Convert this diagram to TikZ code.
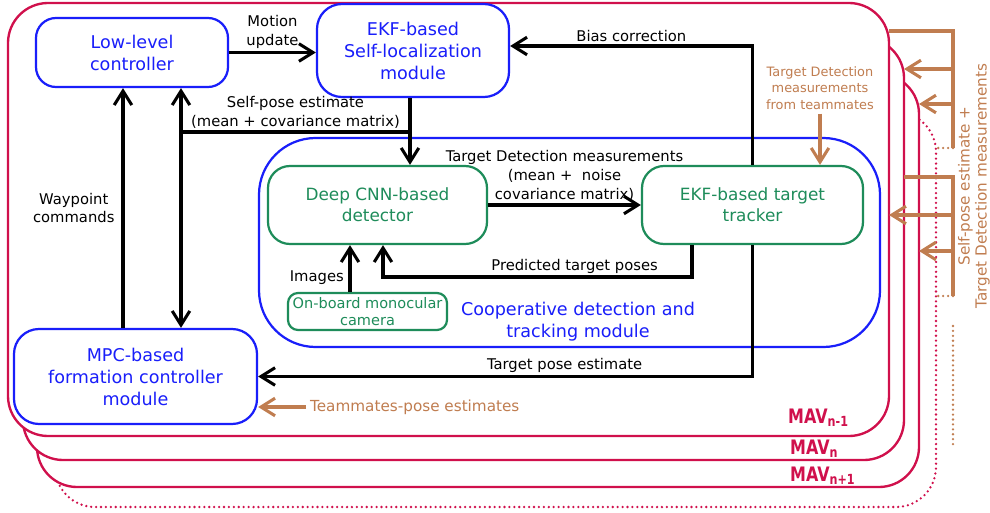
\documentclass[tikz,border=0pt]{standalone}
\usepackage{fontspec}
\setmainfont{DejaVu Sans}
\newfontfamily\mavfont[FakeStretch=0.8]{DejaVu Sans}
\usetikzlibrary{arrows.meta}

\definecolor{mavred}{RGB}{208,16,76}
\definecolor{modblue}{RGB}{25,30,250}
\definecolor{detgreen}{RGB}{30,140,90}
\definecolor{teambrown}{RGB}{192,125,80}

\tikzset{
  frame/.style={draw=mavred, line width=2pt, rounded corners=1.2cm, fill=white},
  bluebox/.style={draw=modblue, line width=1.9pt, text=modblue, align=center,
    font=\fontsize{15}{18.8}\selectfont},
  greenbox/.style={draw=detgreen, line width=1.9pt, text=detgreen, align=center,
    font=\fontsize{14.4}{18}\selectfont, rounded corners=0.66cm},
  flow/.style={->, line width=2.6pt},
  lbl/.style={align=center, font=\fontsize{12.6}{16}\selectfont, inner sep=2pt},
  teamlbl/.style={text=teambrown, align=center, font=\fontsize{13}{15}\selectfont},
  mavlbl/.style={text=mavred, font=\mavfont\bfseries\fontsize{17}{18}\selectfont, inner sep=0pt},
  more/.style={line width=2.2pt, line cap=round, dash pattern=on 0pt off 4.2pt},
}

\begin{document}
\begin{tikzpicture}[x=0.03cm, y=-0.03cm, >={Straight Barb[length=12pt,width=15pt]}]
\useasboundingbox (0,0) rectangle (990,513);

% the MAV frames, back to front
\draw[frame, more, fill=none] (55,112) rectangle (936,507);
\draw[frame] (37,74) rectangle (919,487);
\draw[frame] (23,38) rectangle (904,460);
\draw[frame] (8,3) rectangle (889,436);

\node[mavlbl, anchor=base west] (mavprev) at (788,423) {MAV\textsubscript{n-1}};
\node[mavlbl, anchor=base west] (mavcur) at (790,454) {MAV\textsubscript{n}};
\node[mavlbl, anchor=base west] (mavnext) at (790,481) {MAV\textsubscript{n+1}};

% cooperative module
\draw[modblue, line width=1.9pt, rounded corners=1.7cm] (259,138) rectangle (880,347);
\node[text=modblue, align=center, font=\fontsize{15}{18.8}\selectfont] (coop) at (578,322)
  {Cooperative detection and\\tracking module};

\node[bluebox, minimum width=5.76cm, minimum height=2.07cm, rounded corners=0.6cm] (lowlevel) at (132,52.5) {Low-level\\controller};
\node[bluebox, minimum width=5.76cm, minimum height=2.79cm, rounded corners=0.75cm] (selfloc) at (413,50.5) {EKF-based\\Self-localization\\module};
\node[bluebox, minimum width=7.29cm, minimum height=2.85cm, rounded corners=0.75cm] (mpc) at (135.5,376.5) {MPC-based\\formation controller\\module};
\node[greenbox, minimum width=6.57cm, minimum height=2.34cm] (detector) at (377.5,205) {Deep CNN-based\\detector};
\node[greenbox, minimum width=6.63cm, minimum height=2.34cm] (tracker) at (752.5,205) {EKF-based target\\tracker};
\node[greenbox, minimum width=4.77cm, minimum height=1.11cm, rounded corners=0.3cm, inner sep=1pt,
  font=\fontsize{12.4}{14.8}\selectfont] (camera) at (367.5,311.5) {On-board monocular\\camera};

% connectors
\coordinate (posesplit) at (410,132);
\coordinate (posebus) at (181,132);
\coordinate (waypt) at (123,0);
\coordinate (predout) at (692,0);
\coordinate (predin) at (383,277);
\coordinate (imgx) at (350,0);

\draw[flow] (lowlevel.east) -- (selfloc.west |- lowlevel.east)
  node[lbl, midway, above] {Motion\\update};
\draw[flow] (tracker.north) |- ([yshift=0.135cm]selfloc.east)
  node[lbl, pos=0.75, above] {Bias correction};
\draw[flow] (selfloc.south -| posesplit) -- (detector.north -| posesplit);
\draw[line width=2.6pt] (posesplit) -- (posebus)
  node[lbl, midway, above] {Self-pose estimate\\(mean + covariance matrix)};
\draw[flow, <->] (lowlevel.south -| posebus) -- (mpc.north -| posebus);
\draw[flow] (mpc.north -| waypt) -- (lowlevel.south -| waypt)
  node[lbl, midway, left=4pt] {Waypoint\\commands};
\draw[flow] (detector) -- (tracker)
  node[lbl, midway, above] {Target Detection measurements\\(mean + \ noise\\covariance matrix)};
\draw[flow] (tracker.south -| predout) |- node[lbl, pos=0.69, above] {Predicted target poses} (predin)
  -- (detector.south -| predin);
\draw[flow] (camera.north -| imgx) -- (detector.south -| imgx)
  node[lbl, pos=0.3, left=2pt] {Images};
\draw[flow] (tracker.south) |- node[lbl, pos=0.69, above] {Target pose estimate} (mpc.east);

% from the teammates
\node[teamlbl, anchor=west] (teampose) at (306,407) {Teammates-pose estimates};
\draw[flow, teambrown] (teampose.west) -- (teampose.west -| mpc.east);
\node[teamlbl, font=\fontsize{11}{14}\selectfont] (teamdet) at (820,88)
  {Target Detection\\measurements\\from teammates};
\draw[flow, teambrown] (teamdet.south) -- (teamdet.south |- tracker.north);

% exchange between the MAVs
\draw[teambrown, line width=2.6pt] (889,31) -| (953,148);
\draw[flow, teambrown] (953,69) -- (904,69);
\draw[flow, teambrown] (953,104) -- (919,104);
\draw[teambrown, more] (953,148) -- (936,148);
\draw[teambrown, line width=2.6pt] (904,177) -| (953,296);
\draw[flow, teambrown] (953,215) -- (889,215);
\draw[flow, teambrown] (953,251) -- (919,251);
\draw[teambrown, more] (953,296) -- (936,296);
\draw[teambrown, more] (953,326) -- (953,446);
\node[teamlbl, rotate=90, font=\fontsize{13}{14.5}\selectfont] (exchange) at (974,186)
  {Self-pose estimate +\\Target Detection measurements};
\end{tikzpicture}
\end{document}
